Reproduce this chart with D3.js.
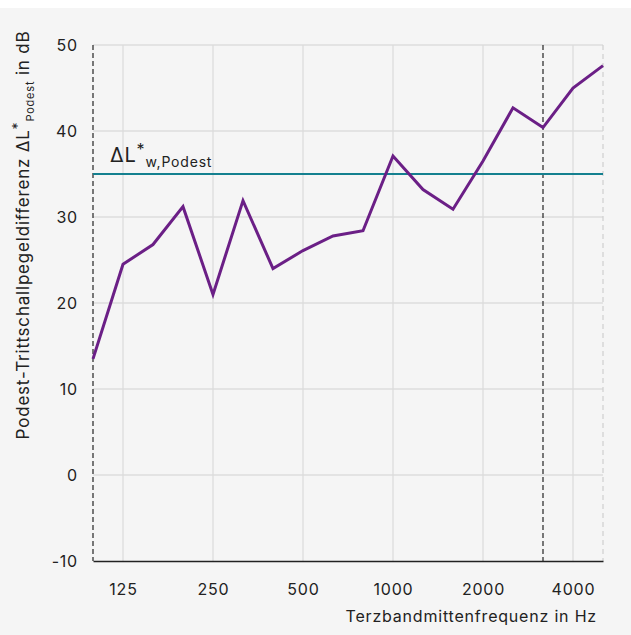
<!DOCTYPE html>
<html>
<head>
<meta charset="utf-8">
<script src="https://cdn.jsdelivr.net/npm/d3@7"></script>
<style>
  html, body { margin: 0; padding: 0; background: #fff; }
  svg { display: block; font-family: "Inter", "Lato", sans-serif; }
  svg text { letter-spacing: 0.8px; }
</style>
</head>
<body>
<div id="chart"></div>
<script>
// third-octave band centre frequencies in Hz
var freqs = ['100', '125', '160', '200', '250', '315', '400', '500', '630', '800',
             '1000', '1250', '1600', '2000', '2500', '3150', '4000', '5000'];
// measured level difference in dB
var values = [13.5, 24.5, 26.8, 31.2, 21.0, 31.9, 24.0, 26.1, 27.8, 28.4,
              37.1, 33.2, 30.9, 36.5, 42.7, 40.4, 45.0, 47.6];
var singleValue = 35.0;            // weighted ΔL*w,Podest
var xTickLabels = ['125', '250', '500', '1000', '2000', '4000'];
var yTicks = [-10, 0, 10, 20, 30, 40, 50];
var markerFreqs = ['100', '3150'];  // dark dashed verticals

var width = 631, height = 635;
var margin = {top: 45, right: 28, bottom: 74, left: 93};

var svg = d3.select('#chart').append('svg')
    .attr('width', width)
    .attr('height', height);

svg.append('rect')
    .attr('x', 0).attr('y', 8)
    .attr('width', width).attr('height', height - 8)
    .attr('fill', '#f5f5f5');

var x = d3.scalePoint()
    .domain(freqs)
    .range([margin.left, width - margin.right]);

var y = d3.scaleLinear()
    .domain([-10, 50])
    .range([height - margin.bottom, margin.top]);

// grid
var grid = svg.append('g').attr('stroke', '#dcdcdc').attr('stroke-width', 1.3);
grid.selectAll('.hg')
    .data(yTicks.filter(function (d) { return d > -10; }))
    .join('line')
    .attr('x1', margin.left).attr('x2', width - margin.right)
    .attr('y1', function (d) { return y(d); })
    .attr('y2', function (d) { return y(d); });
grid.selectAll('.vg')
    .data(xTickLabels)
    .join('line')
    .attr('x1', function (d) { return x(d); })
    .attr('x2', function (d) { return x(d); })
    .attr('y1', margin.top).attr('y2', height - margin.bottom);

// light dashed right edge
svg.append('line')
    .attr('x1', x('5000')).attr('x2', x('5000'))
    .attr('y1', margin.top).attr('y2', height - margin.bottom)
    .attr('stroke', '#cfcfcf').attr('stroke-width', 1.2)
    .attr('stroke-dasharray', '5,4');

// dark dashed markers
svg.selectAll('.marker')
    .data(markerFreqs)
    .join('line')
    .attr('x1', function (d) { return x(d); })
    .attr('x2', function (d) { return x(d); })
    .attr('y1', margin.top).attr('y2', height - margin.bottom)
    .attr('stroke', '#333').attr('stroke-width', 1.3)
    .attr('stroke-dasharray', '5,3');

// x axis
var xAxis = svg.append('g')
    .attr('transform', 'translate(0,' + (height - margin.bottom) + ')')
    .call(d3.axisBottom(x).tickValues(xTickLabels).tickSize(0).tickPadding(23));
xAxis.select('.domain').attr('stroke', '#222').attr('stroke-width', 1.5);
xAxis.selectAll('text').attr('font-size', 16).attr('fill', '#222')
    .attr('font-family', '"Inter", sans-serif');

// y axis
var yAxis = svg.append('g')
    .attr('transform', 'translate(' + margin.left + ',0)')
    .call(d3.axisLeft(y).tickValues(yTicks).tickSize(0).tickPadding(15)
        .tickFormat(function (d) { return String(d); }));
yAxis.select('.domain').remove();
yAxis.selectAll('text').attr('font-size', 16).attr('fill', '#222')
    .attr('font-family', '"Inter", sans-serif');

// single number rating line
svg.append('line')
    .attr('x1', margin.left).attr('x2', width - margin.right)
    .attr('y1', y(singleValue)).attr('y2', y(singleValue))
    .attr('stroke', '#14808f').attr('stroke-width', 2.2);

var lbl = svg.append('text')
    .attr('x', 110).attr('y', y(singleValue) - 12)
    .attr('fill', '#222').attr('font-size', 20);
lbl.append('tspan').text('ΔL');
lbl.append('tspan').attr('dy', -7).attr('font-size', 16).text('*');
lbl.append('tspan').attr('dy', 12).attr('font-size', 14).text('w,Podest');

// data line
var line = d3.line()
    .x(function (d, i) { return x(freqs[i]); })
    .y(function (d) { return y(d); });

svg.append('path')
    .datum(values)
    .attr('fill', 'none')
    .attr('stroke', '#6b1f86')
    .attr('stroke-width', 3)
    .attr('stroke-linejoin', 'miter')
    .attr('d', line);

// axis titles
svg.append('text')
    .attr('x', width - margin.right - 6).attr('y', 622)
    .attr('text-anchor', 'end')
    .attr('font-size', 16).attr('fill', '#222')
    .text('Terzbandmittenfrequenz in Hz');

var yt = svg.append('text')
    .attr('transform', 'translate(29,235) rotate(-90)')
    .attr('text-anchor', 'middle')
    .attr('font-size', 17).attr('fill', '#222');
yt.append('tspan').text('Podest-Trittschallpegeldifferenz ΔL');
yt.append('tspan').attr('dy', -6).attr('font-size', 14).text('*');
yt.append('tspan').attr('dy', 11).attr('font-size', 11).text('Podest');
yt.append('tspan').attr('dy', -5).text(' in dB');
</script>
</body>
</html>
